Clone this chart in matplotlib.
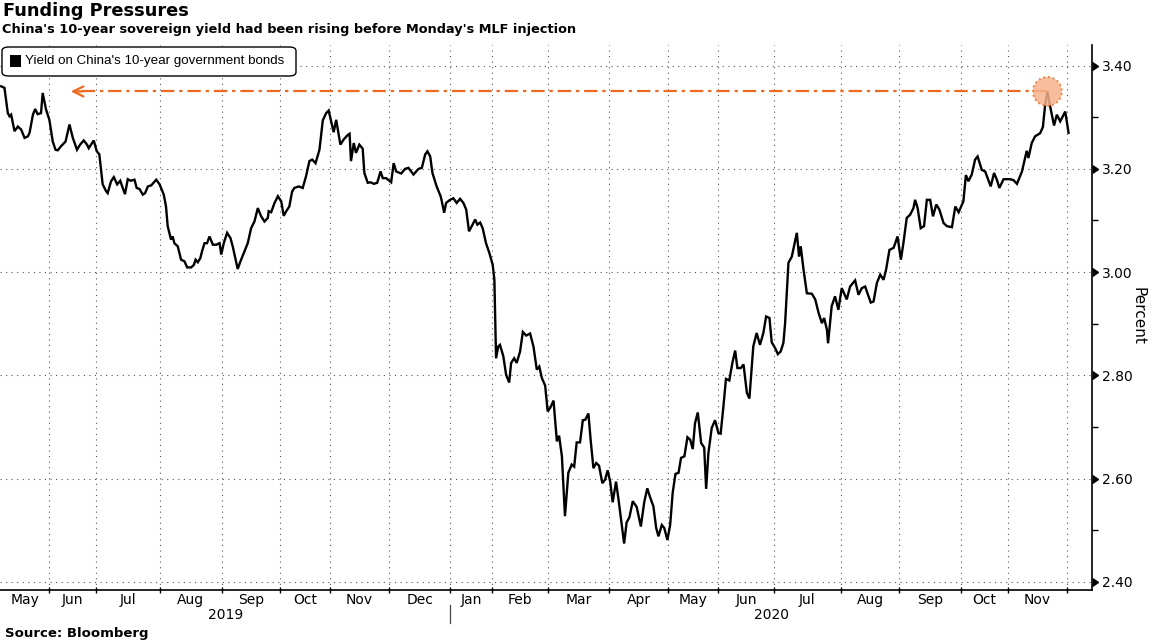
import matplotlib
matplotlib.use('Agg')
import matplotlib.pyplot as plt
import matplotlib.transforms as mtransforms
from matplotlib.patches import FancyBboxPatch, Ellipse, Rectangle
import numpy as np

plt.rcParams['font.family'] = ['DejaVu Sans']

# x axis counts trading days from the first point (mid May 2019)
month_labels = ['May', 'Jun', 'Jul', 'Aug', 'Sep', 'Oct', 'Nov', 'Dec', 'Jan', 'Feb',
                'Mar', 'Apr', 'May', 'Jun', 'Jul', 'Aug', 'Sep', 'Oct', 'Nov']
month_days = [17, 17, 23, 22, 21, 18, 21, 22, 15, 20, 22, 21, 18, 20, 24, 21, 22, 17, 21]
years = ['2019', '2020']

day = [0, 1.2, 2.4, 3.0, 3.6, 4.8, 6.0, 7.2, 8.4, 9.6, 10.2, 11.4, 12.2, 13.1, 14.3, 14.9,
       16.1, 17.3, 18.5, 19.5, 20.3, 21.5, 23.1, 24.5, 25.7, 27.2, 28.3, 29.6, 30.8, 31.4,
       33.2, 34.3, 35.2, 36.4, 37.6, 38.2, 39.4, 40.4, 41.6, 42.7, 43.4, 44.4, 45.4, 46.4,
       47.8, 48.6, 49.6, 50.8, 51.6, 52.6, 53.8, 55.6, 56.8, 58.3, 59.1, 59.7, 60.9, 61.5,
       62.1, 63.3, 64.5, 65.7, 66.7, 68.1, 69.1, 69.7, 70.5, 71.4, 72.0, 72.9, 73.8, 74.7,
       75.9, 77.1, 78.3, 78.9, 79.8, 81.0, 82.2, 83.0, 84.8, 85.8, 87.2, 88.4, 89.6, 90.8,
       92.0, 93.2, 94.4, 95.6, 95.9, 96.8, 98.0, 99.2, 100.4, 101.3, 102.2, 103.3, 104.3,
       105.1, 106.7, 108.1, 109.3, 110.5, 111.5, 112.7, 114.1, 115.3, 116.5, 117.4, 118.3,
       119.2, 120.1, 121.6, 122.8, 124.3, 124.9, 125.4, 126.4, 127.2, 128.4, 129.6, 130.2,
       131.4, 132.4, 133.6, 134.8, 136.0, 136.8, 138.0, 139.8, 140.7, 141.6, 143.4,
       144.8, 146.0, 147.8, 149.6, 150.8, 152.0, 152.8, 153.8, 154.6, 156.1, 157.6, 158.8,
       159.5, 160.9, 162.1, 163.3, 164.5, 165.7, 166.7, 167.7, 168.7, 169.9, 170.7, 171.7,
       172.6, 173.8, 175.0, 176.2, 176.8,
       177.4, 178.2, 178.8, 180.0, 181.0, 182.1, 182.8, 183.9, 184.8, 186.0, 187.0, 188.2,
       189.6, 190.8, 192.0, 192.9, 193.8, 195.0, 195.9, 196.8, 198.0, 199.2, 200.0, 201.0,
       202.1, 203.3, 204.5, 205.4, 206.3, 207.5, 208.5, 209.4, 210.5, 211.3, 212.3, 213.3,
       214.3, 215.5, 216.5, 217.4, 218.3, 219.2, 220.4, 221.3, 222.2, 223.3, 224.2, 225.2,
       226.4, 227.8, 229.3, 230.5, 231.6, 232.6, 233.8, 234.8, 235.6, 236.8, 237.7, 238.8,
       239.8, 240.7, 241.7, 242.8, 243.7, 244.9, 246.0, 247.0, 247.9, 248.7, 249.7, 250.9,
       252.0, 252.7, 253.5, 254.7, 255.9, 257.1, 257.9, 258.9, 259.8, 261.0, 262.1, 263.1,
       263.9, 265.1, 266.1, 267.3, 268.2, 269.6, 270.8, 272.0, 273.2, 274.2, 275.4, 276.2,
       277.4, 278.4, 279.4, 280.4, 281.0, 282.2, 283.4, 285.2, 286.0, 286.6, 287.6,
       288.8, 290.6, 291.8, 293.0, 294.2, 295.0, 296.0, 296.4, 297.7, 298.9, 300.1, 301.3,
       303.1, 304.3, 306.1, 307.3, 308.5, 309.7, 310.9, 311.7, 312.7, 313.9, 315.1, 316.3,
       317.2, 318.4, 319.9, 321.3, 322.5, 323.4, 324.6, 325.8, 327.0, 327.6, 328.5, 329.6,
       330.8, 331.8, 333.0, 334.0, 335.2, 336.3, 337.8, 339.0, 340.8, 342.0, 343.2, 344.9,
       345.8, 346.7, 347.9, 349.1, 350.0, 351.5, 352.7, 354.7, 355.9, 356.9, 357.8, 359.3,
       361.7, 362.9, 364.1, 365.9, 367.0, 367.6, 368.2, 369.4, 370.6, 372.4, 373.4, 374.2,
       375.0, 376.0, 377.4, 378.4, 379.6, 381.4, 382.6]

yld = [3.360, 3.357, 3.308, 3.302, 3.305, 3.273, 3.282, 3.276, 3.260, 3.263, 3.270, 3.305,
       3.316, 3.306, 3.308, 3.347, 3.315, 3.295, 3.253, 3.237, 3.236, 3.244, 3.253, 3.286,
       3.260, 3.237, 3.247, 3.255, 3.247, 3.240, 3.255, 3.234, 3.228, 3.170, 3.157, 3.153,
       3.176, 3.184, 3.170, 3.177, 3.166, 3.151, 3.180, 3.177, 3.179, 3.163, 3.161, 3.150,
       3.153, 3.166, 3.168, 3.179, 3.170, 3.150, 3.127, 3.089, 3.063, 3.069, 3.056, 3.050,
       3.024, 3.021, 3.009, 3.009, 3.014, 3.024, 3.019, 3.027, 3.040, 3.056, 3.056, 3.069,
       3.053, 3.053, 3.056, 3.034, 3.056, 3.076, 3.066, 3.050, 3.006, 3.021, 3.040, 3.056,
       3.085, 3.098, 3.124, 3.108, 3.098, 3.105, 3.118, 3.116, 3.134, 3.147, 3.137, 3.109,
       3.118, 3.127, 3.156, 3.163, 3.166, 3.163, 3.186, 3.215, 3.218, 3.211, 3.237, 3.294,
       3.308, 3.313, 3.292, 3.271, 3.295, 3.247, 3.257, 3.266, 3.268, 3.215, 3.250, 3.231,
       3.247, 3.239, 3.192, 3.173, 3.174, 3.171, 3.173, 3.195, 3.182, 3.182, 3.174, 3.211,
       3.195, 3.191,
       3.200, 3.202, 3.189, 3.200, 3.202, 3.228, 3.234, 3.224, 3.192, 3.166, 3.146, 3.115,
       3.134, 3.140, 3.143, 3.134, 3.142, 3.134, 3.121, 3.079, 3.089, 3.102, 3.092, 3.096,
       3.085, 3.056, 3.037, 3.014, 2.985,
       2.833, 2.856, 2.859, 2.837, 2.801, 2.786, 2.824, 2.833, 2.824, 2.846, 2.884, 2.877,
       2.881, 2.856, 2.811, 2.817, 2.795, 2.780, 2.730, 2.737, 2.751, 2.672, 2.683, 2.643,
       2.527, 2.611, 2.627, 2.623, 2.670, 2.670, 2.713, 2.714, 2.726, 2.675, 2.620, 2.630,
       2.625, 2.591, 2.598, 2.616, 2.594, 2.554, 2.594, 2.559, 2.520, 2.474, 2.515, 2.525,
       2.556, 2.545, 2.507, 2.554, 2.581, 2.564, 2.546, 2.504, 2.488, 2.510, 2.504, 2.481,
       2.510, 2.572, 2.609, 2.611, 2.640, 2.643, 2.680, 2.675, 2.657, 2.707, 2.728, 2.669,
       2.660, 2.580, 2.649, 2.698, 2.713, 2.688, 2.687, 2.740, 2.793, 2.790, 2.824, 2.848,
       2.814, 2.814, 2.821, 2.766, 2.755, 2.856, 2.882, 2.859, 2.882, 2.914, 2.911, 2.864,
       2.853, 2.841, 2.846, 2.863, 2.901, 3.018, 3.030, 3.076, 3.030, 3.050, 3.005,
       2.959, 2.958, 2.947, 2.921, 2.901, 2.911, 2.888, 2.862, 2.934, 2.953, 2.927, 2.969,
       2.947, 2.972, 2.984, 2.956, 2.969, 2.972, 2.953, 2.941, 2.943, 2.979, 2.995, 2.985,
       3.005, 3.043, 3.047, 3.069, 3.024, 3.056, 3.105, 3.111, 3.124, 3.140, 3.124, 3.085,
       3.089, 3.140, 3.140, 3.108, 3.131, 3.121, 3.095, 3.089, 3.087, 3.127, 3.116, 3.137,
       3.188, 3.176, 3.189, 3.218, 3.224, 3.198, 3.195, 3.166, 3.192, 3.179, 3.163, 3.180,
       3.180, 3.178, 3.171, 3.195, 3.221, 3.235, 3.221, 3.250, 3.263, 3.269, 3.281, 3.324,
       3.350, 3.321, 3.284, 3.305, 3.292, 3.311, 3.270]

peak_day = 375.0
peak_yld = 3.350
arrow_day = 24.0

orange = '#ef6a21'

month_start = np.concatenate([[0], np.cumsum(month_days)])
jan_2020 = month_start[8]

fig = plt.figure(figsize=(11.5, 6.42), dpi=100)
ax = fig.add_axes([0.0, 1 - 590 / 642, 1092 / 1150, 545 / 642])
ax.set_xlim(-0.4, 391)
ax.set_ylim(2.384, 3.44)

ax.plot(day, yld, color='black', lw=1.7, zorder=4, solid_joinstyle='miter')

# orange reference line to the latest peak
ax.plot([peak_day, arrow_day + 0.5], [peak_yld, peak_yld], color=orange, lw=1.6,
        ls=(0, (6, 2.2, 1.5, 2.2)), zorder=3)
ax.annotate('', xy=(arrow_day, peak_yld), xytext=(arrow_day + 6, peak_yld),
            arrowprops=dict(arrowstyle='->', color=orange, lw=1.6, mutation_scale=18),
            zorder=3)
ax.add_patch(Ellipse((peak_day, peak_yld), 10.4, 0.056, facecolor='#f7b28c',
                     edgecolor=orange, ls=':', lw=1.3, alpha=0.85, zorder=5))

# axes styling
for side in ['left', 'top']:
    ax.spines[side].set_visible(False)
ax.spines['right'].set_linewidth(1.2)
ax.spines['bottom'].set_linewidth(1.2)

ax.yaxis.tick_right()
yt = np.arange(2.4, 3.41, 0.2)
ax.set_yticks(yt)
ax.set_yticklabels(['%.2f' % v for v in yt])
ax.set_yticks(np.arange(2.5, 3.41, 0.2), minor=True)
ax.tick_params(axis='y', which='major', length=0, pad=7, labelsize=10)
ax.tick_params(axis='y', which='minor', length=4, width=1, direction='out')
trans_y = mtransforms.blended_transform_factory(ax.transAxes, ax.transData)
ax.plot(np.ones(len(yt)), yt, ls='none', marker=9, ms=6, color='black',
        transform=trans_y, clip_on=False)

ax.set_xticks(month_start[1:])
ax.set_xticklabels([])
ax.tick_params(axis='x', which='major', direction='inout', length=5, width=1)

ax.grid(True, which='major', color='#555555', ls=(0, (1, 4)), lw=0.8)

trans_x = mtransforms.blended_transform_factory(ax.transData, ax.transAxes)
for i, lab in enumerate(month_labels):
    xc = (month_start[i] + month_start[i + 1]) / 2
    ax.text(xc, -0.019, lab, transform=trans_x, ha='center', va='center', fontsize=10)
x0, x1 = ax.get_xlim()
ax.text((x0 + jan_2020) / 2, -0.046, years[0], transform=trans_x, ha='center',
        va='center', fontsize=10)
ax.text((jan_2020 + x1) / 2, -0.046, years[1], transform=trans_x, ha='center',
        va='center', fontsize=10)
ax.plot([jan_2020, jan_2020], [-0.028, -0.060], color='#444444', lw=0.9,
        transform=trans_x, clip_on=False)

fig.text(1138 / 1150, 1 - 316 / 642, 'Percent', rotation=270, ha='center',
         va='center', fontsize=11)

# titles and source
fig.text(0.003, 1 - 11 / 642, 'Funding Pressures', fontsize=12.8, fontweight='bold',
         va='center')
fig.text(0.002, 1 - 30 / 642,
         "China's 10-year sovereign yield had been rising before Monday's MLF injection",
         fontsize=9.3, fontweight='bold', va='center')
fig.text(0.004, 1 - 634 / 642, 'Source: Bloomberg', fontsize=9.5, fontweight='bold',
         va='center')

# legend box
box = FancyBboxPatch((2 / 1150, 1 - 76 / 642), 294 / 1150, 29 / 642,
                     boxstyle='round,pad=0,rounding_size=0.006', transform=fig.transFigure,
                     facecolor='white', edgecolor='black', lw=1.0, zorder=10)
fig.patches.append(box)
fig.patches.append(Rectangle((10 / 1150, 1 - 67 / 642), 11 / 1150, 12 / 642,
                             transform=fig.transFigure, facecolor='black', zorder=11))
fig.text(25 / 1150, 1 - 61 / 642, "Yield on China's 10-year government bonds",
         fontsize=9.6, family='Liberation Sans', va='center', zorder=12)

fig.savefig('out.png', dpi=100)
